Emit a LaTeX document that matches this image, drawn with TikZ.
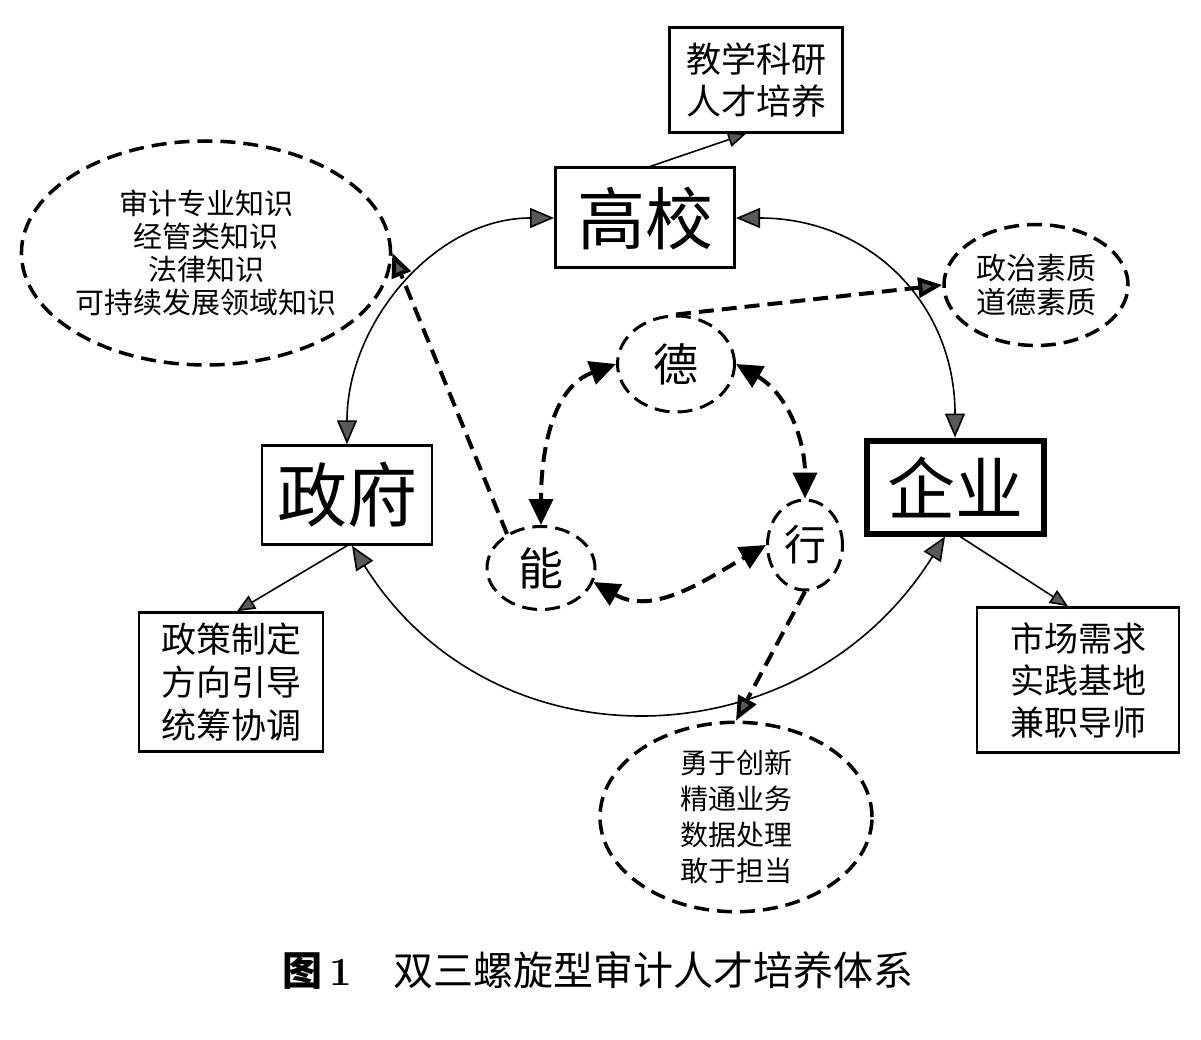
\documentclass[tikz,border=0pt]{standalone}
\usepackage{fontspec}
\newfontfamily\cjk{Noto Sans CJK SC}
\usetikzlibrary{arrows.meta,shapes.geometric}
\tikzset{
  gtip/.tip={Triangle[length=24pt,width=20pt,fill=gray!70!black]},
  stip/.tip={Triangle[length=18pt,width=15pt,fill=gray!70!black]},
  btip/.tip={Triangle[length=26pt,width=24pt,fill=black]},
  box/.style={draw,line width=2.5pt,inner sep=0pt,align=center},
  oval/.style={draw,ellipse,line width=3.5pt,dash pattern=on 15pt off 8pt,inner sep=0pt,align=center},
  big/.style={font=\cjk\fontsize{68}{70}\selectfont},
  mid/.style={font=\cjk\fontsize{35}{42}\selectfont},
  link/.style={line width=1.6pt},
  dlink/.style={line width=4pt,dash pattern=on 15pt off 8pt},
}
\begin{document}
\begin{tikzpicture}[x=1pt,y=1pt]
\useasboundingbox[fill=white] (0,0) rectangle (1201,-1040);

% main boxes
\node[box,line width=3pt,minimum width=179pt,minimum height=100pt,big] (gx) at (645,-218) {高校};
\node[box,minimum width=170pt,minimum height=99pt,font=\cjk\fontsize{70}{72}\selectfont] (zf) at (347,-495) {政府};
\node[box,line width=6pt,minimum width=177pt,minimum height=93pt,big] (qy) at (955,-487) {企业};

% info boxes
\node[box,minimum width=173pt,minimum height=105pt,mid] (jx) at (756,-80) {教学科研\\人才培养};
\node[box,minimum width=184pt,minimum height=139pt,font=\cjk\fontsize{35}{43}\selectfont] (zc) at (231,-682) {政策制定\\方向引导\\统筹协调};
\node[box,minimum width=202pt,minimum height=145pt,font=\cjk\fontsize{34}{42}\selectfont] (sc) at (1078,-680) {市场需求\\实践基地\\兼职导师};

% ellipses
\node[oval,minimum width=352pt,minimum height=224pt,font=\cjk\fontsize{29}{33}\selectfont] (zs) at (206,-253) {审计专业知识\\经管类知识\\法律知识\\可持续发展领域知识};
\node[oval,minimum width=184pt,minimum height=121pt,font=\cjk\fontsize{30}{34}\selectfont] (zz) at (1036,-285) {政治素质\\道德素质};
\node[oval,minimum width=272pt,minimum height=170pt,font=\cjk\fontsize{28}{36}\selectfont] (yy) at (736,-817) {勇于创新\\精通业务\\数据处理\\敢于担当};

% inner circles
\node[oval,line width=3pt,minimum width=117pt,minimum height=96pt,font=\cjk\fontsize{45}{47}\selectfont] (de) at (676,-364) {德};
\node[oval,line width=3pt,minimum width=108pt,minimum height=83pt,font=\cjk\fontsize{45}{47}\selectfont] (neng) at (541,-568) {能};
\node[oval,line width=3pt,minimum width=75pt,minimum height=90pt,font=\cjk\fontsize{42}{44}\selectfont] (xing) at (805,-545) {行};

% outer arcs
\draw[link,{gtip}-{gtip}] (gx.west) to[out=180,in=90] (zf.north);
\draw[link,{gtip}-{gtip}] (gx.east) to[out=0,in=90,looseness=1.1] (qy.north);
\draw[link,{gtip}-{gtip}] ([xshift=5pt]zf.south) to[out=-58,in=-122,looseness=1.15] ([xshift=-10pt]qy.south);

% thin links to info boxes
\draw[link,-{stip}] ([xshift=5pt]gx.north) -- ([xshift=-10pt]jx.south);
\draw[link,-{stip}] (zf.south) -- ([xshift=6pt]zc.north);
\draw[link,-{stip}] ([xshift=5pt]qy.south) -- ([xshift=-10pt]sc.north);

% inner triangle
\draw[dlink,{btip}-{btip}] (de.west) to[out=200,in=90] (neng.north);
\draw[dlink,{btip}-{btip}] (de.east) to[out=-30,in=90] (xing.north);
\draw[dlink,{btip}-{btip}] (neng.-15) to[out=-30,in=210] (xing.west);

% dashed outward links
\draw[dlink,-{gtip}] (neng.135) -- (zs.east);
\draw[dlink,-{gtip}] (de.north) -- (zz.west);
\draw[dlink,-{gtip}] (xing.south) -- (yy.north);

% caption
\node[font=\fontsize{40}{42}\selectfont] (cap) at (598,-970) {{\cjk\bfseries 图}\,\textbf{1}\hspace{42pt}{\cjk 双三螺旋型审计人才培养体系}};
\end{tikzpicture}
\end{document}
